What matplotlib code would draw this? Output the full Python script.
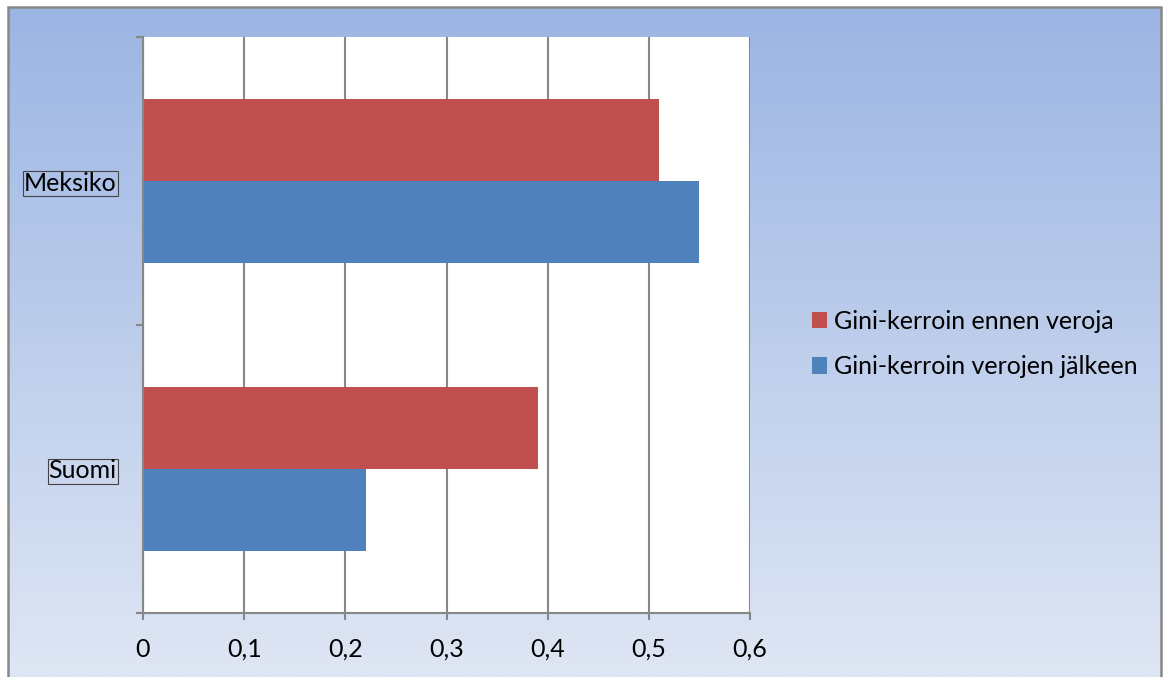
import matplotlib
matplotlib.use('Agg')
import matplotlib.pyplot as plt
import numpy as np
from matplotlib.patches import Rectangle
from matplotlib.colors import LinearSegmentedColormap

countries = ['Suomi', 'Meksiko']
before_tax = [0.39, 0.51]
after_tax = [0.22, 0.55]
series_names = ['Gini-kerroin ennen veroja', 'Gini-kerroin verojen jälkeen']
x_ticks = [0, 0.1, 0.2, 0.3, 0.4, 0.5, 0.6]
x_labels = ['0', '0,1', '0,2', '0,3', '0,4', '0,5', '0,6']

plt.rcParams['font.family'] = ['Lato', 'DejaVu Sans']
W, H = 1164, 677
fig = plt.figure(figsize=(W / 100, H / 100), dpi=100)
fig.patch.set_facecolor('white')

# gradient background inside the frame
bg = fig.add_axes([8 / W, 0, (1161 - 8) / W, 1 - 7 / H])
bg.axis('off')
cmap = LinearSegmentedColormap.from_list('bg', ['#9bb5e3', '#dfe6f4'])
grad = np.linspace(0, 1, 256).reshape(-1, 1)
bg.imshow(grad, aspect='auto', cmap=cmap, extent=[0, 1, 0, 1], origin='upper')
bg.set_xlim(0, 1)
bg.set_ylim(0, 1)
fig.add_artist(Rectangle((8 / W, -0.01), (1161 - 8) / W, 1.01 - 7 / H,
                         transform=fig.transFigure, fill=False,
                         edgecolor='#888888', linewidth=1.8))

ax = fig.add_axes([143 / W, 1 - 613 / H, (750 - 143) / W, (613 - 37) / H])
ax.set_facecolor('white')
pos = np.arange(len(countries)) + 0.5
h = 0.285
red = '#c0504d'
blue = '#4f81bd'
ax.barh(pos + h / 2, before_tax, height=h, color=red, label=series_names[0], zorder=2)
ax.barh(pos - h / 2, after_tax, height=h, color=blue, label=series_names[1], zorder=2)

fs = 18
ax.set_xlim(0, 0.6)
ax.set_ylim(0, 2)
ax.set_xticks(x_ticks)
ax.set_xticklabels(x_labels, fontsize=fs)
ax.grid(axis='x', color='#878787', linewidth=1.5, zorder=1)
ax.set_yticks([0, 1, 2])
ax.set_yticklabels([])
ax.set_yticks(pos, minor=True)
ax.set_yticklabels(countries, minor=True, fontsize=fs,
                   bbox=dict(facecolor='none', edgecolor='#444444', linewidth=0.8, pad=0.8))
ax.tick_params(axis='y', which='major', length=5, color='#878787', width=1.5)
ax.tick_params(axis='y', which='minor', length=0, pad=19)
ax.tick_params(axis='x', length=5, color='#878787', width=1.5, pad=13)
for s in ['top', 'right']:
    ax.spines[s].set_visible(False)
for s in ['left', 'bottom']:
    ax.spines[s].set_color('#878787')
    ax.spines[s].set_linewidth(1.5)

fig.legend(loc='center left', bbox_to_anchor=(789 / W, 1 - 344 / H), frameon=False,
           fontsize=fs, handlelength=0.62, handleheight=0.62, handletextpad=0.3,
           labelspacing=0.9)

fig.savefig('out.png', dpi=100)
plt.close(fig)
